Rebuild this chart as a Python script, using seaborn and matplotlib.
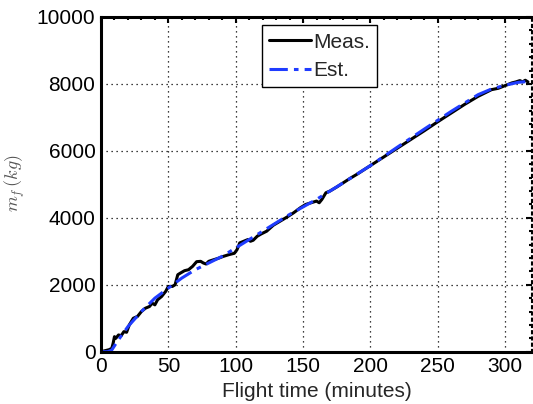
import numpy as np
import pandas as pd
import matplotlib
matplotlib.use('Agg')
import matplotlib.pyplot as plt
from matplotlib.ticker import MultipleLocator
import seaborn as sns

# Dados (tempo de voo em minutos, massa em kg)
meas_t = [0, 3, 6, 8, 9, 10, 11, 13, 15, 17, 19, 21, 24, 27, 30, 33, 36, 38, 40, 42,
          45, 48, 50, 53, 55, 56, 57, 59, 62, 65, 68, 71, 74, 76, 78, 80, 83, 87, 91, 95,
          99, 101, 103, 106, 109, 111, 113, 116, 119, 123, 128, 133, 138, 143, 148, 152, 156, 160, 162, 164,
          167, 170, 175, 180, 185, 190, 200, 210, 220, 230, 240, 250, 260, 270, 280, 290, 295, 300, 305, 308,
          311, 313, 315, 317]
meas_v = [0, 30, 60, 100, 250, 450, 400, 500, 480, 600, 580, 800, 1000, 1050, 1200, 1300, 1350, 1450, 1400, 1550,
          1650, 1800, 1950, 1950, 2000, 2150, 2300, 2350, 2420, 2450, 2550, 2690, 2700, 2650, 2620, 2700, 2740, 2790, 2850, 2900,
          2940, 3050, 3250, 3300, 3350, 3300, 3330, 3450, 3520, 3600, 3780, 3900, 4020, 4150, 4300, 4400, 4450, 4500, 4450, 4550,
          4750, 4800, 4920, 5050, 5180, 5300, 5560, 5820, 6080, 6340, 6600, 6870, 7130, 7390, 7630, 7830, 7870, 7950, 8030, 8060,
          8100, 8060, 8110, 8060]

est_t = [0, 5, 8, 12, 20, 30, 40, 50, 60, 70, 80, 90, 100, 110, 120, 140, 160, 180,
         200, 220, 240, 260, 280, 290, 300, 310, 316]
est_v = [0, 0, 50, 300, 750, 1200, 1600, 1900, 2200, 2450, 2650, 2850, 3100, 3350, 3600, 4100, 4550, 5050,
         5560, 6110, 6650, 7180, 7680, 7850, 7960, 8050, 8070]

df_meas = pd.DataFrame({'t': meas_t, 'v': meas_v})
df_est = pd.DataFrame({'t': est_t, 'v': est_v})

sns.set_style('white')
plt.rcParams['font.family'] = ['Liberation Sans', 'DejaVu Sans']
plt.rcParams['mathtext.fontset'] = 'cm'

fig = plt.figure(figsize=(5.33, 4.04), dpi=100)
ax = fig.add_axes([101 / 533, 1 - 351.7 / 404, 431 / 533, (351.7 - 17) / 404])

sns.lineplot(data=df_meas, x='t', y='v', ax=ax, color='black', linewidth=2.2, label='Meas.')
sns.lineplot(data=df_est, x='t', y='v', ax=ax, color='#1f3cff', linewidth=2.2,
             linestyle=(0, (6, 2, 1.5, 2)), label='Est.')

ax.set_xlim(0, 320)
ax.set_ylim(0, 10000)
ax.xaxis.set_major_locator(MultipleLocator(50))
ax.xaxis.set_minor_locator(MultipleLocator(10))
ax.yaxis.set_major_locator(MultipleLocator(2000))
ax.yaxis.set_minor_locator(MultipleLocator(400))

# Estilo parecido com MATLAB
ax.grid(True, which='major', color='black', linestyle=(0, (1, 3)), linewidth=0.9)
ax.tick_params(which='both', direction='in', top=True, right=True, colors='black',
               labelsize=15, pad=4)
ax.tick_params(which='major', length=4, width=1.5)
ax.tick_params(which='minor', length=2.5, width=1.5)
for lado in ['left', 'bottom', 'top']:
    ax.spines[lado].set_color('black')
    ax.spines[lado].set_linewidth(2.2)
ax.spines['right'].set_color('black')
ax.spines['right'].set_linewidth(1.5)
ax.spines['right'].set_linestyle((0, (1, 2)))

ax.set_xlabel('Flight time (minutes)', fontsize=15)
ax.xaxis.set_label_coords(0.5, -0.12)
ax.xaxis.label.set_va('center')
ax.set_ylabel(r'$m_f\,(kg)$', fontsize=13, color='#555555')
ax.yaxis.set_label_coords(-0.2, 0.505)
ax.yaxis.label.set_va('center')

leg = ax.legend(loc='upper center', bbox_to_anchor=(0.507, 0.975), fontsize=15,
                frameon=True, fancybox=False, framealpha=1, edgecolor='black',
                handlelength=2.0, handletextpad=0.1, borderpad=0.35, labelspacing=0.45,
                borderaxespad=0)
leg.get_frame().set_linewidth(1.0)

plt.savefig('out.png', dpi=100)
